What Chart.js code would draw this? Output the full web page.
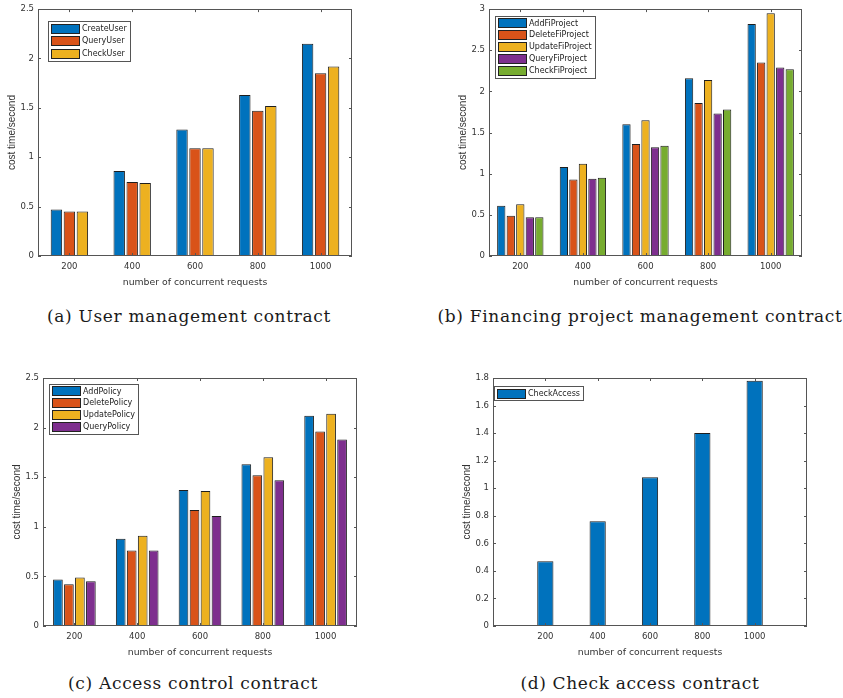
<!DOCTYPE html>
<html>
<head>
<meta charset="utf-8">
<script src="https://cdn.jsdelivr.net/npm/chart.js@4.4.0/dist/chart.umd.min.js"></script>
<style>
body{margin:0;background:#fff;}
#page{position:relative;width:843px;height:698px;overflow:hidden;background:#fff;}
canvas{position:absolute;}
.cap{position:absolute;font-family:"DejaVu Serif",serif;font-size:17px;color:#1a1a1a;white-space:nowrap;line-height:20px;}
</style>
</head>
<body>
<div id="page">
  <canvas id="chartA" width="421" height="290" style="left:0;top:0"></canvas>
  <canvas id="chartB" width="421" height="290" style="left:421px;top:0"></canvas>
  <canvas id="chartC" width="421" height="300" style="left:0;top:360px"></canvas>
  <canvas id="chartD" width="421" height="300" style="left:421px;top:360px"></canvas>
  <div class="cap" data-center="189" data-width="284" style="top:306px">(a) User management contract</div>
  <div class="cap" data-center="640" data-width="405" style="top:306px">(b) Financing project management contract</div>
  <div class="cap" data-center="193" data-width="250" style="top:673px">(c) Access control contract</div>
  <div class="cap" data-center="640" data-width="239" style="top:673px">(d) Check access contract</div>
</div>
<script>
// x categories
var requestLabels = ['200', '400', '600', '800', '1000'];

// (a) user management contract
var createUser = [0.47, 0.86, 1.28, 1.63, 2.15];
var queryUser  = [0.45, 0.75, 1.09, 1.47, 1.85];
var checkUser  = [0.45, 0.74, 1.09, 1.52, 1.92];

// (b) financing project management contract
var addFiProject    = [0.61, 1.08, 1.60, 2.16, 2.82];
var deleteFiProject = [0.49, 0.93, 1.36, 1.86, 2.35];
var updateFiProject = [0.63, 1.12, 1.65, 2.14, 2.95];
var queryFiProject  = [0.47, 0.94, 1.32, 1.73, 2.29];
var checkFiProject  = [0.47, 0.95, 1.34, 1.78, 2.27];

// (c) access control contract
var addPolicy    = [0.47, 0.88, 1.37, 1.63, 2.12];
var deletePolicy = [0.42, 0.76, 1.17, 1.52, 1.96];
var updatePolicy = [0.49, 0.91, 1.36, 1.70, 2.14];
var queryPolicy  = [0.45, 0.76, 1.11, 1.47, 1.88];

// (d) check access contract
var checkAccess = [0.47, 0.76, 1.08, 1.40, 1.78];

const COLORS = ['#0072BD', '#D95319', '#EDB120', '#7E2F8E', '#77AC30'];
const FONT = '"DejaVu Sans", sans-serif';
const YFONT = '"Liberation Sans", Arial, sans-serif';

// box, inward ticks and legend drawn the matlab way
const matlabAxes = {
  id: 'matlabAxes',
  afterDatasetsDraw(chart, args, opts){
    const ctx = chart.ctx, a = chart.chartArea, x = chart.scales.x, y = chart.scales.y;
    ctx.save();
    ctx.strokeStyle = '#555';
    ctx.lineWidth = 1;
    ctx.strokeRect(Math.round(a.left)+0.5, Math.round(a.top)+0.5, Math.round(a.right-a.left)-1, Math.round(a.bottom-a.top)-1);
    const tl = 3;
    ctx.beginPath();
    y.ticks.forEach((t,i)=>{
      const py = Math.round(y.getPixelForTick(i))+0.5;
      ctx.moveTo(a.left, py); ctx.lineTo(a.left+tl, py);
      ctx.moveTo(a.right, py); ctx.lineTo(a.right-tl, py);
    });
    x.ticks.forEach((t,i)=>{
      if(!x.getLabelForValue(t.value)) return;
      const px = Math.round(x.getPixelForTick(i))+0.5;
      ctx.moveTo(px, a.bottom); ctx.lineTo(px, a.bottom-tl);
      ctx.moveTo(px, a.top); ctx.lineTo(px, a.top+tl);
    });
    ctx.stroke();

    // legend
    const ds = chart.data.datasets;
    ctx.font = '8px ' + FONT;
    const tw = Math.max.apply(null, ds.map(d=>ctx.measureText(d.label).width));
    const bx = Math.round(a.left + opts.dx), by = Math.round(a.top + opts.dy);
    const bw = Math.round(tw + 37), bh = Math.round(ds.length*opts.rowH + 2);
    ctx.fillStyle = '#fff';
    ctx.fillRect(bx, by, bw, bh);
    ctx.strokeStyle = '#555';
    ctx.strokeRect(bx+0.5, by+0.5, bw, bh);
    ds.forEach((d,i)=>{
      const cy = by + 1 + opts.rowH*(i+0.5);
      ctx.fillStyle = d.backgroundColor;
      ctx.fillRect(bx+3, Math.round(cy-4.5), 28, 9);
      ctx.strokeStyle = '#222';
      ctx.strokeRect(bx+3.5, Math.round(cy-4.5)+0.5, 28, 9);
      ctx.fillStyle = '#222';
      ctx.textBaseline = 'middle';
      ctx.fillText(d.label, bx+34, cy+0.5);
    });
    ctx.restore();
  }
};

function buildChart(id, labels, series, names, o){
  const datasets = series.map((s,i)=>({
    label: names[i],
    data: s,
    backgroundColor: COLORS[i],
    borderColor: '#1e1e1e',
    borderWidth: 1,
    borderSkipped: 'start',
    categoryPercentage: o.catPct,
    barPercentage: o.barPct
  }));
  const cv = document.getElementById(id);
  return new Chart(cv, {
    type: 'bar',
    data: { labels: labels, datasets: datasets },
    options: {
      responsive: false,
      animation: false,
      layout: { padding: { left: 0, right: cv.width - o.right, top: o.top, bottom: 0 } },
      plugins: {
        legend: { display: false },
        tooltip: { enabled: false },
        matlabAxes: o.legend
      },
      scales: {
        x: {
          offset: o.offset,
          grid: { display: false, drawTicks: false },
          border: { display: false },
          ticks: { color: '#333', font: { family: FONT, size: 8.5 }, padding: 6, maxRotation: 0, autoSkip: false },
          title: { display: true, text: 'number of concurrent requests', color: '#333', font: { family: FONT, size: 9.3 }, padding: { top: 0, bottom: 2 } },
          afterFit: s=>{ s.height = cv.height - o.bottom; }
        },
        y: {
          min: 0, max: o.yMax,
          grid: { display: false, drawTicks: false },
          border: { display: false },
          ticks: { stepSize: o.yStep, color: '#333', font: { family: FONT, size: 8.5 }, padding: 4,
                   callback: v=>String(+v.toFixed(2)) },
          title: { display: true, text: 'cost time/second', color: '#333', font: { family: YFONT, size: 10 }, padding: { top: o.left - 32, bottom: 0 } },
          afterFit: s=>{ s.width = o.left; }
        }
      }
    },
    plugins: [matlabAxes]
  });
}

buildChart('chartA', requestLabels,
  [createUser, queryUser, checkUser],
  ['CreateUser', 'QueryUser', 'CheckUser'],
  { left: 38, right: 352, top: 8, bottom: 256, yMax: 2.5, yStep: 0.5, offset: true,
    catPct: 0.62, barPct: 0.88, legend: { dx: 10, dy: 12, rowH: 12.5 } });

buildChart('chartB', requestLabels,
  [addFiProject, deleteFiProject, updateFiProject, queryFiProject, checkFiProject],
  ['AddFiProject', 'DeleteFiProject', 'UpdateFiProject', 'QueryFiProject', 'CheckFiProject'],
  { left: 68, right: 381, top: 8, bottom: 256, yMax: 3, yStep: 0.5, offset: true,
    catPct: 0.76, barPct: 0.87, legend: { dx: 6, dy: 7, rowH: 11.9 } });

buildChart('chartC', requestLabels,
  [addPolicy, deletePolicy, updatePolicy, queryPolicy],
  ['AddPolicy', 'DeletePolicy', 'UpdatePolicy', 'QueryPolicy'],
  { left: 43, right: 357, top: 18, bottom: 266, yMax: 2.5, yStep: 0.5, offset: true,
    catPct: 0.70, barPct: 0.88, legend: { dx: 6, dy: 6, rowH: 11.9 } });

// single series: blank categories at both ends leave the wide margins
var accessLabels = [''].concat(requestLabels, ['']);
buildChart('chartD', accessLabels,
  [[null].concat(checkAccess, [null])],
  ['CheckAccess'],
  { left: 72, right: 386, top: 18, bottom: 266, yMax: 1.8, yStep: 0.2, offset: false,
    catPct: 1, barPct: 0.31, legend: { dx: 1, dy: 8, rowH: 12 } });

// captions: spread letters to the measured width
document.querySelectorAll('.cap').forEach(el=>{
  const target = +el.dataset.width;
  const w = el.getBoundingClientRect().width;
  const n = el.textContent.length;
  el.style.letterSpacing = ((target - w) / n) + 'px';
  const w2 = el.getBoundingClientRect().width;
  el.style.left = (+el.dataset.center - w2/2) + 'px';
});
</script>
</body>
</html>
